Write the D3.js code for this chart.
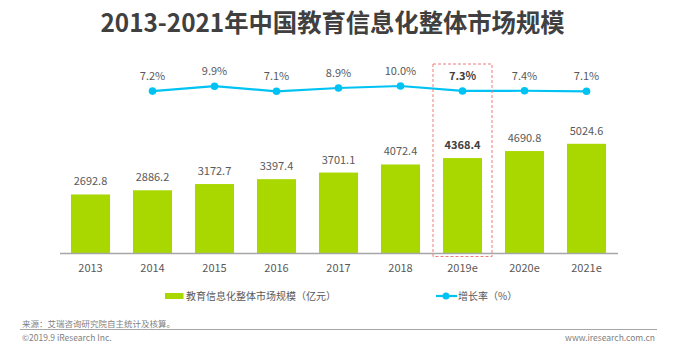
<!DOCTYPE html>
<html><head><meta charset="utf-8">
<script src="https://cdn.jsdelivr.net/npm/d3@7/dist/d3.min.js"></script>
<style>html,body{margin:0;padding:0;background:#fff;}</style>
</head><body>
<script>
const categories = ["2013","2014","2015","2016","2017","2018","2019e","2020e","2021e"];
const marketSize = [2692.8,2886.2,3172.7,3397.4,3701.1,4072.4,4368.4,4690.8,5024.6];
const growthYears = ["2014","2015","2016","2017","2018","2019e","2020e","2021e"];
const growthRate = [7.2,9.9,7.1,8.9,10.0,7.3,7.4,7.1];
const highlight = "2019e";

const W=683,H=358;
const svg=d3.select("body").append("svg").attr("width",W).attr("height",H);
const font='"Noto Sans CJK SC","Noto Sans",sans-serif';

// title
svg.append("text").attr("x",100.5).attr("y",32).attr("font-family",font)
  .attr("font-weight","bold").attr("font-size",25).attr("fill","#404040")
  .attr("textLength",464).attr("lengthAdjust","spacingAndGlyphs")
  .text("2013-2021年中国教育信息化整体市场规模");

const x=d3.scaleBand().domain(categories).range([59.5,617.5]).paddingInner(0.37).paddingOuter(0.185);
const yBar=d3.scaleLinear().domain([0,6000]).range([253,253-130.4]);
const yLine=d3.scaleLinear().domain([0,10]).range([104.3,86.0]);

// bars
svg.selectAll("rect.bar").data(categories).enter().append("rect")
  .attr("x",d=>x(d)).attr("width",x.bandwidth())
  .attr("y",(d,i)=>yBar(marketSize[i])).attr("height",(d,i)=>yBar(0)-yBar(marketSize[i]))
  .attr("fill","#a8d800");

svg.selectAll("text.bl").data(categories).enter().append("text")
  .attr("x",d=>x(d)+x.bandwidth()/2).attr("y",(d,i)=>yBar(marketSize[i])-9)
  .attr("text-anchor","middle").attr("font-family",font).attr("font-size",11)
  .attr("font-weight",d=>d===highlight?"bold":"normal")
  .attr("fill",d=>d===highlight?"#404040":"#595959")
  .text((d,i)=>marketSize[i].toFixed(1));

// axis
const ax=svg.append("g").attr("transform","translate(0,253)")
  .call(d3.axisBottom(x).tickSize(0).tickPadding(0));
ax.select(".domain").attr("stroke","#a6a6a6").attr("stroke-width",1.5);
ax.selectAll("text").attr("font-family",font).attr("font-size",11).attr("fill","#595959").attr("dy","19");

// line
const cx=d=>x(d)+x.bandwidth()/2;
const line=d3.line().x((d,i)=>cx(growthYears[i])).y(d=>yLine(d));
svg.append("path").datum(growthRate).attr("d",line).attr("fill","none")
  .attr("stroke","#00c3f3").attr("stroke-width",2.2);
svg.selectAll("circle.pt").data(growthRate).enter().append("circle")
  .attr("cx",(d,i)=>cx(growthYears[i])).attr("cy",d=>yLine(d)).attr("r",3.8).attr("fill","#00c3f3");
svg.selectAll("text.pl").data(growthRate).enter().append("text")
  .attr("x",(d,i)=>cx(growthYears[i])).attr("y",d=>yLine(d)-11)
  .attr("text-anchor","middle").attr("font-family",font).attr("font-size",11)
  .attr("font-weight",(d,i)=>growthYears[i]===highlight?"bold":"normal")
  .attr("fill",(d,i)=>growthYears[i]===highlight?"#404040":"#595959")
  .text(d=>d.toFixed(1)+"%");

// highlight box
const hx=cx(highlight);
svg.append("rect").attr("x",hx-29.5).attr("y",64).attr("width",59).attr("height",192.5)
  .attr("fill","none").attr("stroke","#f07a7a").attr("stroke-width",1).attr("stroke-dasharray","3,2");

// legend
svg.append("rect").attr("x",165).attr("y",293).attr("width",18.5).attr("height",6).attr("fill","#a8d800");
svg.append("text").attr("x",186).attr("y",299.5).attr("font-family",font).attr("font-size",10)
  .attr("fill","#595959").text("教育信息化整体市场规模（亿元）");
svg.append("line").attr("x1",436).attr("x2",457).attr("y1",296).attr("y2",296).attr("stroke","#00c3f3").attr("stroke-width",2.2);
svg.append("circle").attr("cx",446).attr("cy",296).attr("r",3.5).attr("fill","#00c3f3");
svg.append("text").attr("x",458).attr("y",299.5).attr("font-family",font).attr("font-size",10)
  .attr("fill","#595959").text("增长率（%）");

// footer
svg.append("text").attr("x",22).attr("y",327).attr("font-family",font).attr("font-size",8.5)
  .attr("fill","#7f7f7f").text("来源：艾瑞咨询研究院自主统计及核算。");
svg.append("line").attr("x1",20).attr("x2",657).attr("y1",329.5).attr("y2",329.5).attr("stroke","#a6a6a6").attr("stroke-width",1);
svg.append("text").attr("x",22).attr("y",341).attr("font-family",font).attr("font-size",8.5)
  .attr("fill","#7f7f7f").text("©2019.9 iResearch Inc.");
svg.append("text").attr("x",655).attr("y",341).attr("text-anchor","end").attr("font-family",font).attr("font-size",8.5)
  .attr("fill","#7f7f7f").text("www.iresearch.com.cn");
</script>
</body></html>
